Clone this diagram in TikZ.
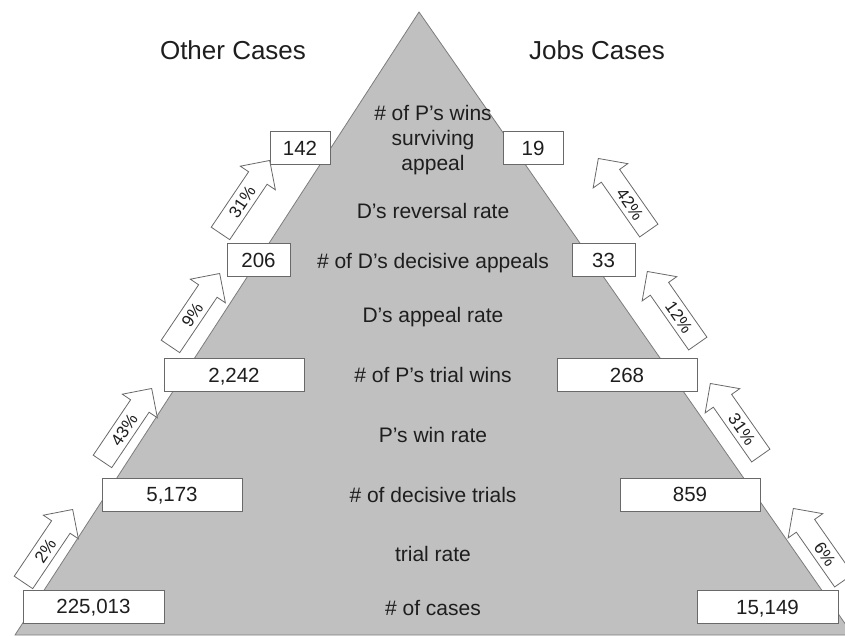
\documentclass[tikz,border=0pt]{standalone}
\usepackage{fontspec}
\setmainfont{Liberation Sans}
\usetikzlibrary{shapes.arrows}
\definecolor{pyr}{RGB}{192,192,192}
\definecolor{edgecol}{RGB}{125,125,125}
\definecolor{boxline}{RGB}{105,105,105}
\definecolor{ink}{RGB}{30,30,30}
\begin{document}
\begin{tikzpicture}[x=1pt,y=-1pt,
  numbox/.style={draw=boxline, line width=0.8pt, fill=white, minimum height=33pt,
    inner sep=0pt, text height=14.6pt, text depth=0pt,
    font=\fontsize{20.5}{24}\selectfont, text=ink},
  lbl/.style={font=\fontsize{21}{25}\selectfont, text=ink, align=center, inner sep=0pt},
  titletext/.style={font=\fontsize{26}{30}\selectfont, text=ink, inner sep=0pt},
  pctbase/.style={single arrow, draw=boxline, fill=white, line width=0.8pt,
    minimum height=88pt, single arrow head extend=10pt, text height=12.5pt,
    text depth=0pt, inner ysep=4.5pt, inner xsep=2pt,
    font=\fontsize{17}{20}\selectfont, text=ink},
  pctl/.style={pctbase, rotate=56, anchor=tip},
  pctr/.style={pctbase, rotate=-55, shape border rotate=180, anchor=tip}]
\useasboundingbox (0,0) rectangle (845,635);
\begin{scope}
  \clip (0,0) rectangle (845,635);
  \draw[fill=pyr, draw=edgecol, line width=0.8pt] (419,12) -- (15,635) -- (853,635) -- cycle;
\end{scope}

% titles
\node[titletext] (tother) at (233,50) {Other Cases};
\node[titletext] (tjobs) at (597,50) {Jobs Cases};

% centre labels
\node[lbl] (lwins) at (433,140) {\# of P’s wins\\surviving\\appeal};
\node[lbl, anchor=base] (lrev) at (433,218) {D’s reversal rate};
\node[lbl, anchor=base] (lapp) at (433,268) {\# of D’s decisive appeals};
\node[lbl, anchor=base] (lapr) at (433,322) {D’s appeal rate};
\node[lbl, anchor=base] (ltw) at (433,382) {\# of P’s trial wins};
\node[lbl, anchor=base] (lwr) at (433,442) {P’s win rate};
\node[lbl, anchor=base] (ldt) at (433,502) {\# of decisive trials};
\node[lbl, anchor=base] (ltr) at (433,561) {trial rate};
\node[lbl, anchor=base] (lcs) at (433,615) {\# of cases};

% left boxes
\node[numbox, minimum width=141pt] (o1) at (93.5,606.5) {225,013};
\node[numbox, minimum width=140pt] (o2) at (172,494.5) {5,173};
\node[numbox, minimum width=140pt] (o3) at (234,375) {2,242};
\node[numbox, minimum width=63pt] (o4) at (258.5,260) {206};
\node[numbox, minimum width=60pt] (o5) at (300,148) {142};

% right boxes
\node[numbox, minimum width=141pt] (j1) at (767.5,607) {15,149};
\node[numbox, minimum width=140pt] (j2) at (690,494.5) {859};
\node[numbox, minimum width=140pt] (j3) at (627,375) {268};
\node[numbox, minimum width=63pt] (j4) at (603.5,260) {33};
\node[numbox, minimum width=60pt] (j5) at (533,148) {19};

% left arrows (text pushed toward the tail)
\node[pctl] (ao1) at (73,509) {2\%\hspace{12pt}};
\node[pctl] (ao2) at (152,388) {43\%\hspace{12pt}};
\node[pctl] (ao3) at (220,273) {9\%\hspace{12pt}};
\node[pctl] (ao4) at (270,160) {31\%\hspace{12pt}};

% right arrows
\node[pctr] (aj1) at (793,508) {\hspace{12pt}6\%};
\node[pctr] (aj2) at (710,383) {\hspace{12pt}31\%};
\node[pctr] (aj3) at (647,271) {\hspace{12pt}12\%};
\node[pctr] (aj4) at (598,158) {\hspace{12pt}42\%};
\end{tikzpicture}
\end{document}
